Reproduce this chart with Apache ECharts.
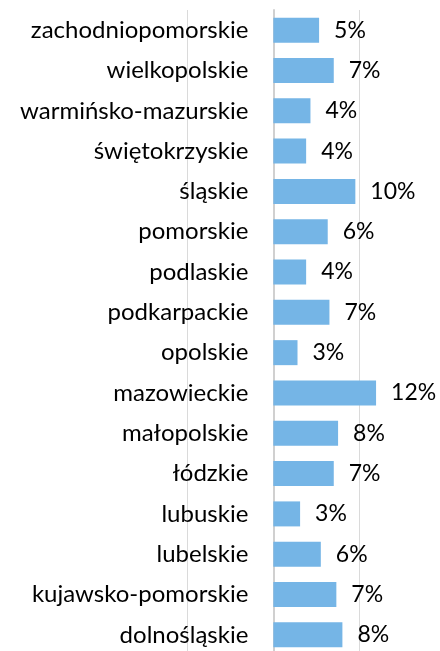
<!DOCTYPE html>
<html>
<head>
<meta charset="utf-8">
<script src="https://cdn.jsdelivr.net/npm/echarts@6/dist/echarts.min.js"></script>
<style>
  html, body { margin: 0; padding: 0; background: #fff; }
  #chart { width: 440px; height: 651px; }
</style>
</head>
<body>
<div id="chart"></div>
<script>
// voivodeships, listed top to bottom as in the picture
const regions = [
  "zachodniopomorskie", "wielkopolskie", "warmińsko-mazurskie", "świętokrzyskie",
  "śląskie", "pomorskie", "podlaskie", "podkarpackie", "opolskie", "mazowieckie",
  "małopolskie", "łódzkie", "lubuskie", "lubelskie", "kujawsko-pomorskie", "dolnośląskie",
];
// share in %
const shares = [5.3, 7.0, 4.3, 3.8, 9.5, 6.3, 3.8, 6.5, 2.8, 11.9, 7.5, 7.0, 3.1, 5.5, 7.3, 8.0];
const axisMin = -10;
const axisMax = 20;
const axisStep = 10;

const chart = echarts.init(document.getElementById("chart"));
chart.setOption({
  animation: false,
  grid: { left: 187, top: 10, width: 259, height: 645, outerBoundsMode: "none" },
  xAxis: {
    type: "value",
    min: axisMin,
    max: axisMax,
    interval: axisStep,
    axisLabel: { show: false },
    axisLine: { show: false },
    axisTick: { show: false },
    splitLine: { lineStyle: { color: "#dadada", width: 1 } },
  },
  yAxis: {
    type: "category",
    inverse: true,
    data: regions,
    axisLine: { onZero: false, lineStyle: { color: "#d0d0d0", width: 2 } },
    axisTick: { length: 10, lineStyle: { color: "#d0d0d0", width: 1 } },
    axisLabel: {
      margin: 25,
      color: "#000",
      fontFamily: "Lato",
      fontSize: 24,
    },
  },
  series: [
    {
      type: "bar",
      data: shares,
      barWidth: 25,
      itemStyle: { color: "#75b5e6" },
      label: {
        show: true,
        position: "right",
        distance: 15,
        color: "#000",
        fontFamily: "Lato",
        fontSize: 23,
        formatter: (p) => Math.round(p.value) + "%",
      },
    },
  ],
});

// onZero does not move the category axis here, so shift it onto x = 0 by hand
const xLeft = chart.convertToPixel({ xAxisIndex: 0 }, axisMin);
const xZero = chart.convertToPixel({ xAxisIndex: 0 }, 0);
chart.setOption({ yAxis: { offset: xLeft - xZero } });
</script>
</body>
</html>
